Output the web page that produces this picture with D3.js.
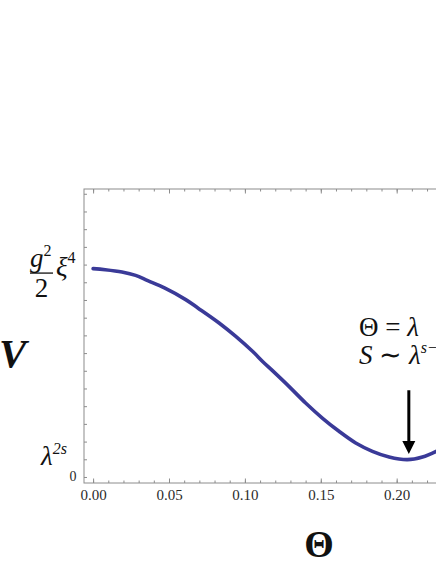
<!DOCTYPE html>
<html>
<head>
<meta charset="utf-8">
<script src="https://cdn.jsdelivr.net/npm/d3@7"></script>
<style>
	body{margin:0;background:#fff;overflow:hidden;}
	.axis path, .axis line{stroke:#8c8c8c;}
	.axis text{font-family:"Liberation Serif","Times New Roman",serif;font-size:15px;fill:#2a2a2a;}
	.math{font-family:"Liberation Serif","Times New Roman",serif;fill:#111;}
</style>
</head>
<body>
<svg id="chart" width="436" height="564"></svg>
<script>

// values
var theta = [0.000,0.008,0.019,0.028,0.036,0.047,0.061,0.069,0.083,0.094,0.105,0.112,0.118,0.129,0.140,0.151,0.162,0.173,0.184,0.195,0.207,0.217,0.226];
var potential = [11.77,11.71,11.58,11.39,11.09,10.68,10.02,9.55,8.70,7.94,7.10,6.50,6.02,5.12,4.18,3.33,2.58,1.92,1.45,1.13,0.98,1.13,1.45];

var xMajorTicks = [0,0.05,0.10,0.15,0.20,0.25];
var xLabelTicks = [0,0.05,0.10,0.15,0.20];
var xMinorTicks = d3.range(0,0.255,0.01);
var yTicks = d3.range(0,17);
var arrowTheta = 0.208, arrowFrom = 4.9, arrowTo = 1.3;

// frame of the plot (right side runs off the page)
var frame = {left:84, top:189, right:470, bottom:483};

var x = d3.scaleLinear().domain([-0.006,0.2483]).range([frame.left,frame.right]);
var y = d3.scaleLinear().domain([-0.34,16.27]).range([frame.bottom,frame.top]);

var svg = d3.select("#chart");

// Frame box
svg.append("rect")
	.attr("x",frame.left).attr("y",frame.top)
	.attr("width",frame.right-frame.left).attr("height",frame.bottom-frame.top)
	.attr("fill","none").attr("stroke","#8c8c8c").attr("stroke-width",1);

// bottom axis: minor then major ticks, pointing inward
svg.append("g").attr("class","axis")
	.attr("transform","translate(0,"+frame.bottom+")")
	.call(d3.axisBottom(x).tickValues(xMinorTicks).tickSize(-2.5).tickFormat(""))
	.select(".domain").remove();
svg.append("g").attr("class","axis")
	.attr("transform","translate(0,"+frame.bottom+")")
	.call(d3.axisBottom(x).tickValues(xMajorTicks).tickSize(-4.5).tickFormat(""))
	.select(".domain").remove();
svg.append("g").attr("class","axis")
	.attr("transform","translate(0,"+frame.bottom+")")
	.call(d3.axisBottom(x).tickValues(xLabelTicks).tickSize(0).tickPadding(6.5).tickFormat(d3.format(".2f")))
	.select(".domain").remove();

// top frame ticks
svg.append("g").attr("class","axis")
	.attr("transform","translate(0,"+frame.top+")")
	.call(d3.axisTop(x).tickValues(xMinorTicks).tickSize(-2.5).tickFormat(""))
	.select(".domain").remove();
svg.append("g").attr("class","axis")
	.attr("transform","translate(0,"+frame.top+")")
	.call(d3.axisTop(x).tickValues(xMajorTicks).tickSize(-4.5).tickFormat(""))
	.select(".domain").remove();

// left ticks
svg.append("g").attr("class","axis")
	.attr("transform","translate("+frame.left+",0)")
	.call(d3.axisLeft(y).tickValues(yTicks).tickSize(-3).tickFormat(""))
	.select(".domain").remove();

// Y tick labels (custom math)
svg.append("text").attr("class","math")
	.attr("x",76.5).attr("y",y(0)+4)
	.attr("text-anchor","end").style("font-size","14px").style("fill","#2a2a2a")
	.text("0");

var lam = svg.append("text").attr("class","math")
	.attr("x",41).attr("y",y(1)+6)
	.style("font-size","27px").style("font-style","italic");
lam.append("tspan").text("λ");
lam.append("tspan").attr("dy",-11).style("font-size","16px").text("2s");

// g^2/2 xi^4
var yBar = y(12)+8.5;
var gg = svg.append("text").attr("class","math")
	.attr("x",30).attr("y",yBar-6)
	.style("font-size","27px").style("font-style","italic");
gg.append("tspan").text("g");
gg.append("tspan").attr("dy",-11).style("font-size","16px").style("font-style","normal").text("2");
svg.append("line")
	.attr("x1",30).attr("x2",53).attr("y1",yBar).attr("y2",yBar)
	.attr("stroke","#111").attr("stroke-width",1.3);
svg.append("text").attr("class","math")
	.attr("x",41.5).attr("y",yBar+24).attr("text-anchor","middle")
	.style("font-size","27px").text("2");
var xi = svg.append("text").attr("class","math")
	.attr("x",56).attr("y",yBar+3)
	.style("font-size","27px").style("font-style","italic");
xi.append("tspan").text("ξ");
xi.append("tspan").attr("dy",-13).style("font-size","16px").style("font-style","normal").text("4");

// the curve
var line = d3.line()
	.x(function(d,i){ return x(theta[i]); })
	.y(function(d){ return y(d); })
	.curve(d3.curveCatmullRom.alpha(0.5));
svg.append("path")
	.attr("d",line(potential))
	.attr("fill","none")
	.attr("stroke","#3a3a98")
	.attr("stroke-width",3.6)
	.attr("stroke-linecap","round");

// arrow
var ax = x(arrowTheta), a0 = y(arrowFrom), a1 = y(arrowTo);
svg.append("line")
	.attr("x1",ax).attr("x2",ax).attr("y1",a0).attr("y2",a1-10)
	.attr("stroke","#000").attr("stroke-width",3);
svg.append("path")
	.attr("d","M"+(ax-6.5)+","+(a1-13)+"L"+(ax+6.5)+","+(a1-13)+"L"+ax+","+a1+"Z")
	.attr("fill","#000");

// annotation (runs off the right edge, as in the original)
var t1 = svg.append("text").attr("class","math")
	.attr("x",x(0.1752)).attr("y",a0-54).style("font-size","27px");
t1.append("tspan").text("Θ = ");
t1.append("tspan").style("font-style","italic").text("λ");
var t2 = svg.append("text").attr("class","math")
	.attr("x",x(0.1752)).attr("y",a0-26).style("font-size","27px");
t2.append("tspan").style("font-style","italic").text("S");
t2.append("tspan").text(" ∼ ");
t2.append("tspan").style("font-style","italic").text("λ");
t2.append("tspan").attr("dy",-11).style("font-size","16px").style("font-style","italic").text("s−1");

// axis titles
svg.append("text").attr("class","math")
	.attr("x",-1).attr("y",367)
	.style("font-size","41px").style("font-weight","bold").style("font-style","italic")
	.text("V");
svg.append("text").attr("class","math")
	.attr("x",319).attr("y",557).attr("text-anchor","middle")
	.style("font-size","38px").style("font-weight","bold")
	.text("Θ");

</script>
</body>
</html>
